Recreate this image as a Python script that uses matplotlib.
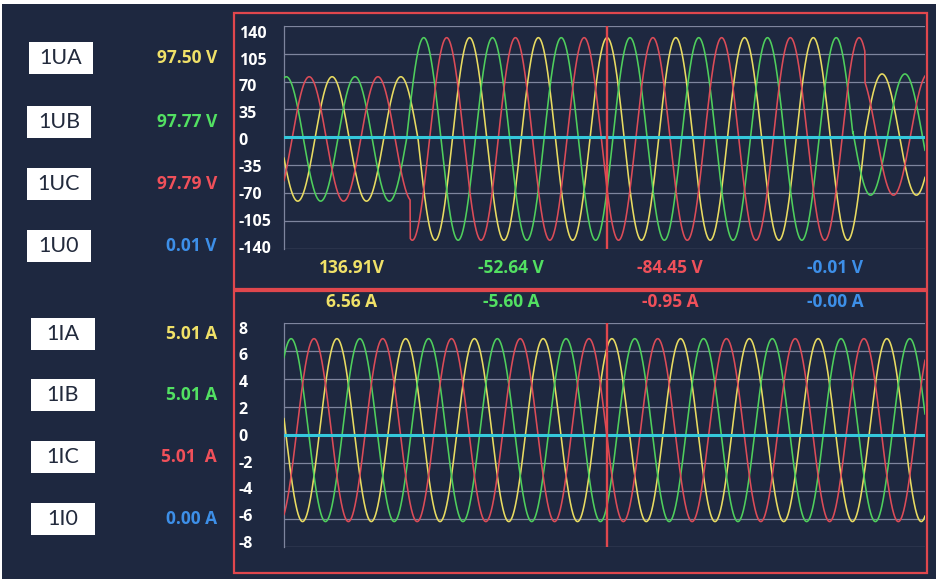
import numpy as np
import matplotlib
matplotlib.use('Agg')
import matplotlib.pyplot as plt
from matplotlib.patches import Rectangle
from matplotlib.transforms import ScaledTranslation

# ---------------- data ----------------
window_ms = 186.5           # visible time window
period_ms = 20.0            # 50 Hz
cursor_ms = 94.0

phase_names = ['A', 'B', 'C']
phase_shift_deg = [0.0, -120.0, 120.0]
# per-phase fault start / end times (ms)
fault_start_ms = [39.0, 35.8, 36.7]
fault_end_ms = [169.0, 165.5, 169.0]

# voltage waveform (V): peak time of phase A, amplitude & offset per segment
# segments: pre-fault, fault, post-fault
voltage_peak_ms = 94.0
voltage_amplitude = [78.0, 127.0, 76.0]
voltage_offset = [-2.0, -2.0, 3.5]

# current waveform (A)
current_peak_ms = 95.4
current_amplitude = [6.55, 6.55, 6.55]
current_offset = [0.35, 0.35, 0.35]

voltage_ticks = [140, 105, 70, 35, 0, -35, -70, -105, -140]
current_ticks = [8, 6, 4, 2, 0, -2, -4, -6, -8]

voltage_labels = ['1UA', '1UB', '1UC', '1U0']
voltage_rms = ['97.50 V', '97.77 V', '97.79 V', '0.01 V']
current_labels = ['1IA', '1IB', '1IC', '1I0']
current_rms = ['5.01 A', '5.01 A', '5.01  A', '0.00 A']

cursor_voltage = ['136.91V', '-52.64 V', '-84.45 V', '-0.01 V']
cursor_current = ['6.56 A', '-5.60 A', '-0.95 A', '-0.00 A']

# ---------------- style ----------------
W, H = 937, 579
BG = '#1e2840'
GRID = '#7e859e'
RED_BOX = '#e0474d'
C_YEL = '#e9dc62'
C_GRN = '#4fcf5d'
C_RED = '#dc4c58'
C_CYAN = '#34c8dc'
T_YEL = '#f0e168'
T_GRN = '#52e062'
T_RED = '#f0505a'
T_BLU = '#3d8fe8'
line_cols = [C_YEL, C_GRN, C_RED]
text_cols = [T_YEL, T_GRN, T_RED, T_BLU]

fig = plt.figure(figsize=(W / 100, H / 100), dpi=100)
fig.patch.set_facecolor('white')


def fx(x):
    return x / W


def fy(y):
    return 1 - y / H


fig.add_artist(Rectangle((fx(2), 0), 1, fy(4), transform=fig.transFigure,
                         facecolor=BG, edgecolor='none', zorder=-10))

# red frames
for (x0, y0, x1, y1) in [(234, 13, 927, 289), (234, 291, 927, 573)]:
    fig.add_artist(Rectangle((fx(x0), fy(y1)), fx(x1) - fx(x0), fy(y0) - fy(y1),
                             transform=fig.transFigure, facecolor='none',
                             edgecolor=RED_BOX, lw=1.6, zorder=10))

t = np.linspace(0, window_ms, 6000)


def waves(peak_ms, amps, offs):
    out = []
    for k, sh in enumerate(phase_shift_deg):
        seg = np.searchsorted([fault_start_ms[k], fault_end_ms[k]], t, side='right')
        a = np.asarray(amps)[seg]
        o = np.asarray(offs)[seg]
        ph = 2 * np.pi * (t - peak_ms) / period_ms + np.deg2rad(sh)
        out.append(a * np.cos(ph) + o)
    return out


def setup(ax, ticks, lim, shift_mid, shift_slope):
    ax.set_facecolor(BG)
    ax.set_xlim(0, window_ms)
    ax.set_ylim(-lim, lim)
    ax.set_xticks([])
    ax.set_yticks(ticks, labels=[str(v) for v in ticks], fontweight='bold',
                  ha='left', fontsize=11.5, family='Open Sans')
    ax.tick_params(axis='y', length=0, pad=32.5, labelcolor='white')
    # labels in the reference are spaced slightly tighter than the grid
    for v, lbl in zip(ticks, ax.get_yticklabels()):
        dy = -(shift_mid + shift_slope * v / lim) / 100.0
        lbl.set_transform(lbl.get_transform() + ScaledTranslation(0, dy, fig.dpi_scale_trans))
    ax.grid(axis='y', color=GRID, lw=0.9, zorder=1)
    ax.set_axisbelow(True)
    for s in ['top', 'right', 'bottom']:
        ax.spines[s].set_visible(False)
    ax.spines['left'].set_color(GRID)
    ax.spines['left'].set_linewidth(0.9)


ax_v = fig.add_axes([fx(284), fy(249), fx(925) - fx(284), fy(25.7) - fy(249)])
ax_i = fig.add_axes([fx(284), fy(546.7), fx(925) - fx(284), fy(323.3) - fy(546.7)])
setup(ax_v, voltage_ticks, 140, 1.8, 4.2)
setup(ax_i, current_ticks, 8, -0.3, 4.5)

for ax, ws in [(ax_v, waves(voltage_peak_ms, voltage_amplitude, voltage_offset)),
               (ax_i, waves(current_peak_ms, current_amplitude, current_offset))]:
    for w, c in zip(ws, line_cols):
        ax.plot(t, w, color=c, lw=1.15, zorder=3)
    ax.axhline(0, color=C_CYAN, lw=2.2, zorder=4)
    ax.axvline(cursor_ms, color=RED_BOX, lw=1.7, zorder=5)

# left panel: label boxes and RMS values
v_rows = [58, 122, 184, 246]
i_rows = [334, 395, 457, 519]
box_x = [29, 27, 27, 27]
ibox_x = [31, 31, 31, 31]
for rows, labels, vals, bx in [(v_rows, voltage_labels, voltage_rms, box_x),
                               (i_rows, current_labels, current_rms, ibox_x)]:
    for k, (yc, lab, val) in enumerate(zip(rows, labels, vals)):
        x0 = bx[k]
        fig.add_artist(Rectangle((fx(x0), fy(yc + 16)), fx(64), 32 / H,
                                 transform=fig.transFigure, facecolor='white',
                                 edgecolor='none', zorder=5))
        fig.text(fx(x0 + 32), fy(yc), lab, ha='center', va='center',
                 fontsize=15.5, color='#222a3c', family='Lato', zorder=6)
        fig.text(fx(217), fy(yc), val, ha='right', va='center', fontsize=12.5,
                 fontweight='bold', color=text_cols[k], family='Open Sans')

# cursor readouts
for vals, yc in [(cursor_voltage, 268), (cursor_current, 302)]:
    for k, (xc, val) in enumerate(zip([352, 511, 670, 835], vals)):
        fig.text(fx(xc), fy(yc), val, ha='center', va='center', fontsize=12.5,
                 fontweight='bold', color=text_cols[k], family='Open Sans')

fig.savefig('out.png', dpi=100, facecolor=fig.get_facecolor())
